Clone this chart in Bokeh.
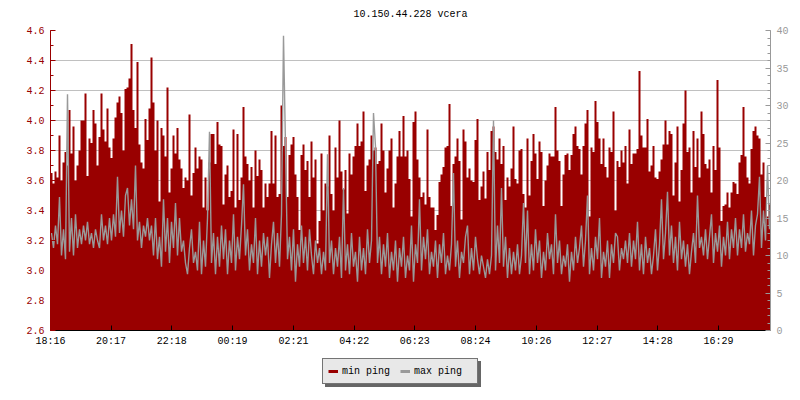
import numpy as np
from bokeh.plotting import figure
from bokeh.layouts import column
from bokeh.models import (Range1d, LinearAxis, FixedTicker, PrintfTickFormatter,
                          Legend, LegendItem)
from bokeh.embed import file_html
from bokeh.resources import INLINE

TITLE = "10.150.44.228 vcera"
TIME_LABELS = ["18:16", "20:17", "22:18", "00:19", "02:21", "04:22",
               "06:23", "08:24", "10:26", "12:27", "14:28", "16:29"]
TIME_OFFSETS_MIN = [0, 121, 242, 363, 485, 606, 727, 848, 970, 1091, 1212, 1333]
SPAN_MIN = 1437
LEFT_TICKS = [2.6, 2.8, 3.0, 3.2, 3.4, 3.6, 3.8, 4.0, 4.2, 4.4, 4.6]
RIGHT_TICKS = [0, 5, 10, 15, 20, 25, 30, 35, 40]
SERIES_NAMES = ["min ping", "max ping"]

MIN_PING = [
    3.65, 3.58, 3.66, 3.62, 3.90, 3.60, 3.72, 3.79, 3.70, 4.07,
    3.78, 3.96, 3.60, 3.70, 3.80, 4.00, 4.00, 4.18, 3.63, 3.88,
    3.85, 4.07, 3.98, 3.70, 3.89, 4.18, 3.94, 3.86, 4.08, 3.82,
    3.75, 3.88, 4.02, 4.12, 4.16, 4.05, 3.80, 4.21, 4.22, 4.28,
    4.51, 4.07, 3.95, 4.39, 3.84, 3.72, 3.68, 4.01, 3.87, 4.08,
    4.42, 4.12, 3.80, 4.00, 3.46, 3.95, 3.90, 3.76, 4.22, 3.52,
    3.68, 3.90, 3.78, 3.95, 3.74, 3.68, 3.55, 3.62, 3.60, 4.04,
    3.50, 3.65,
    3.82, 3.68, 3.76, 3.74, 3.42, 3.62, 3.40, 3.72, 3.91, 3.91,
    3.71, 3.99, 3.84, 3.83, 3.44, 3.64, 3.70, 3.49, 3.53, 3.94,
    3.42, 3.91, 3.47, 3.62, 4.09, 3.76, 3.71, 3.60, 3.69, 3.42,
    3.80, 3.63, 3.74, 3.67, 3.42, 3.58, 3.49, 3.58, 3.93, 3.58,
    3.90, 3.49, 3.51, 4.10, 3.83, 3.89, 3.49, 3.77, 3.84, 3.89,
    3.64, 3.49, 3.27, 3.77, 3.84, 3.67, 3.73, 3.49, 3.86, 3.62,
    3.74, 3.18, 3.33, 3.78, 3.40, 3.58, 3.56, 3.90, 3.51, 3.40,
    3.82, 3.62,
    4.00, 3.66, 3.54, 3.67, 3.38, 3.78, 3.64, 3.76, 3.83, 3.98,
    3.83, 3.86, 4.06, 3.53, 3.70, 3.74, 3.90, 3.80, 3.82, 3.71,
    3.73, 3.98, 3.80, 3.52, 3.68, 3.80, 3.88, 3.42, 3.58, 3.76,
    3.93, 3.76, 4.03, 3.76, 3.80, 3.61, 3.36, 3.99, 4.06, 3.74,
    3.62, 3.49, 3.52, 3.44, 3.94, 3.49, 3.42, 3.42, 3.27, 3.37,
    3.59, 3.64, 3.69, 3.82, 3.83, 4.11, 3.43, 3.71, 3.76, 3.88,
    3.73, 3.34, 3.94, 3.86, 3.62, 3.68, 3.60, 3.59, 3.87, 4.01,
    3.47, 3.56,
    3.66, 3.48, 3.79, 3.67, 3.93, 3.96, 3.79, 3.74, 3.88, 3.71,
    3.83, 3.47, 3.62, 3.56, 3.68, 3.96, 3.61, 3.58, 3.80, 3.81,
    3.51, 3.42, 3.88, 3.50, 3.73, 3.91, 3.78, 3.61, 3.86, 3.79,
    3.43, 3.60, 3.70, 3.78, 3.76, 3.76, 4.09, 3.80, 3.73, 3.43,
    3.64, 3.77, 3.78, 3.67, 3.77, 3.91, 3.96, 3.83, 3.81, 3.64,
    3.83, 3.98, 4.07, 3.36, 3.82, 3.79, 4.13, 3.99, 3.88, 3.71,
    3.88, 3.69, 3.62, 3.82, 3.79, 4.06, 3.40, 3.73, 3.69, 3.80,
    3.72, 3.83,
    3.58, 3.94, 3.71, 3.78, 3.78, 3.81, 4.33, 3.90, 3.82, 3.82,
    4.01, 3.66, 3.70, 3.83, 3.62, 3.61, 3.66, 3.74, 3.84, 4.00,
    3.84, 3.93, 3.91, 3.50, 3.72, 3.96, 3.46, 3.67, 3.98, 4.20,
    3.79, 3.82, 3.52, 3.93, 3.69, 3.88, 3.62, 4.06, 3.91, 3.71,
    3.68, 3.74, 3.52, 3.83, 3.67, 4.27, 3.82, 3.33, 3.43, 3.44,
    3.52, 3.42, 3.52, 3.59, 3.58, 3.51, 3.72, 3.77, 4.09, 3.76,
    3.62, 3.58, 3.81, 3.93, 3.96, 3.90, 3.88, 3.64, 3.72, 3.49,
    3.36, 3.44,
]

MAX_PING = [
    13.0, 11.0, 14.0, 11.5, 17.8, 10.0, 13.5, 9.5, 31.5, 10.5,
    15.0, 10.0, 15.5, 11.0, 13.5, 11.5, 14.0, 12.0, 14.5, 11.5,
    13.0, 11.0, 13.5, 12.0, 11.0, 15.5, 12.0, 14.0, 11.5, 15.0,
    12.0, 15.5, 12.5, 20.5, 13.0, 16.0, 12.5, 18.0, 19.0, 14.0,
    17.5, 13.5, 22.0, 12.0, 14.5, 11.0, 14.0, 12.5, 15.0, 12.0,
    14.0, 10.0, 15.0, 9.5, 12.5, 8.5, 17.5, 10.5, 15.0, 9.0,
    14.5, 11.0, 17.0, 10.0, 15.0, 10.5, 12.0, 9.0, 7.5, 11.0,
    13.5, 9.0,
    10.5, 8.0, 14.5, 7.5, 12.0, 8.5, 15.0, 26.5, 9.0, 13.0,
    7.5, 12.5, 8.5, 14.0, 9.5, 13.5, 7.5, 12.0, 9.0, 15.5,
    8.0, 12.5, 9.5, 14.0, 19.5, 10.0, 13.5, 8.0, 11.5, 9.0,
    15.0, 7.5, 12.0, 8.5, 13.0, 10.0, 12.5, 7.0, 11.5, 14.5,
    9.0, 13.0, 8.5, 15.5, 39.3, 24.5, 9.5, 12.5, 8.0, 13.5,
    6.5, 11.5, 8.5, 14.0, 9.0, 12.5, 8.0, 13.5, 10.0, 7.5,
    12.0, 9.0, 11.0, 7.5, 10.5, 8.0, 23.5, 9.0, 12.0, 7.5,
    11.0, 8.5,
    12.5, 7.0, 19.0, 8.0, 11.5, 7.5, 13.0, 8.5, 10.5, 6.5,
    12.5, 8.0, 11.0, 7.5, 13.5, 9.0, 12.0, 29.0, 24.5, 9.0,
    12.5, 7.5, 11.5, 8.5, 13.0, 7.0, 10.5, 8.0, 12.0, 6.5,
    11.0, 8.5, 12.5, 7.0, 10.0, 8.0, 14.0, 6.5, 11.5, 9.0,
    17.5, 8.0, 12.5, 9.5, 13.5, 7.5, 10.5, 8.5, 12.0, 7.0,
    11.5, 9.0, 13.0, 7.5, 10.0, 8.0, 11.5, 21.0, 8.5, 12.0,
    7.0, 10.5, 9.0, 12.5, 14.0, 7.5, 11.0, 8.0, 12.5, 9.5,
    7.5, 10.0,
    8.5, 7.0, 9.5, 7.5, 10.0, 28.0, 8.0, 14.0, 9.0, 19.0,
    8.5, 12.5, 7.0, 11.0, 7.5, 10.5, 8.0, 11.5, 7.5, 10.0,
    17.0, 9.0, 16.0, 7.5, 11.5, 8.0, 13.5, 9.0, 12.0, 7.0,
    10.5, 8.0, 13.0, 9.5, 11.5, 7.5, 15.5, 9.0, 12.0, 7.5,
    10.0, 8.5, 11.5, 6.5, 10.5, 8.0, 12.5, 9.0, 11.0, 14.0,
    8.5, 12.0, 18.0, 7.5, 11.0, 8.0, 12.5, 9.5, 15.0, 7.0,
    10.5, 8.5, 12.0, 7.0, 11.5, 9.0, 13.0, 12.5, 8.0, 11.0,
    9.5, 12.0,
    9.0, 13.0, 8.5, 12.0, 9.5, 14.5, 8.0, 11.5, 7.5, 12.5,
    9.0, 11.0, 7.5, 10.0, 13.5, 8.0, 11.5, 17.5, 9.5, 13.0,
    18.5, 10.0, 14.0, 9.0, 12.5, 8.0, 14.5, 9.5, 12.0, 8.5,
    11.5, 7.5, 10.5, 13.0, 9.0, 18.0, 11.0, 12.5, 10.0, 13.5,
    9.5, 12.5, 15.5, 9.0, 13.0, 10.5, 14.0, 8.5, 12.5, 10.0,
    14.5, 9.5, 13.5, 11.0, 15.0, 10.0, 13.5, 11.0, 15.5, 10.5,
    13.0, 11.5, 16.0, 10.0, 14.0, 15.5, 20.5, 11.0, 16.0, 12.0,
    22.0, 13.5,
]

RED = "#990000"
GRAY = "#999999"
FONT = "Liberation Mono"

n = len(MIN_PING)
step = SPAN_MIN / n
xs = list(np.arange(n + 1) * step)
x_mid = list((np.arange(n) + 0.5) * step)
y_min = MIN_PING + [MIN_PING[-1]]

p = figure(width=800, height=350, output_backend="svg", toolbar_location=None, tools="",
           x_range=Range1d(0, SPAN_MIN), y_range=Range1d(LEFT_TICKS[0], LEFT_TICKS[-1]),
           min_border_left=50, min_border_right=30, min_border_top=30, min_border_bottom=20)
p.extra_y_ranges = {"right": Range1d(RIGHT_TICKS[0], RIGHT_TICKS[-1])}
p.outline_line_color = None
p.background_fill_color = "white"
p.border_fill_color = "white"

p.title.text = TITLE
p.title.align = "center"
p.title.vertical_align = "top"
p.title.text_font = FONT
p.title.text_font_size = "10px"
p.title.text_font_style = "normal"
p.title.text_color = "black"
p.title.standoff = 17

p.varea_step(x=xs, y1=[LEFT_TICKS[0]] * (n + 1), y2=y_min, step_mode="after",
             fill_color=RED, fill_alpha=1)
p.line(x=x_mid, y=MAX_PING, y_range_name="right", line_color=GRAY, line_width=1.4)

# left axis
left_ticker = FixedTicker(ticks=LEFT_TICKS,
                          minor_ticks=[round(LEFT_TICKS[0] + 0.1 * k, 2) for k in range(21)])
ya = p.yaxis[0]
ya.ticker = left_ticker
ya.formatter = PrintfTickFormatter(format="%.1f")
ya.axis_line_color = RED
ya.major_tick_line_color = RED
ya.minor_tick_line_color = RED
ya.major_tick_in = 5
ya.major_tick_out = 0
ya.minor_tick_in = 3
ya.minor_tick_out = 0
ya.major_label_text_color = RED
ya.major_label_text_font = FONT
ya.major_label_text_font_size = "10px"
ya.major_label_standoff = 6

# right axis
ra = LinearAxis(y_range_name="right",
                ticker=FixedTicker(ticks=RIGHT_TICKS, minor_ticks=list(range(0, 41))))
ra.axis_line_color = GRAY
ra.major_tick_line_color = GRAY
ra.minor_tick_line_color = GRAY
ra.major_tick_in = 5
ra.major_tick_out = 0
ra.minor_tick_in = 3
ra.minor_tick_out = 0
ra.major_label_text_color = GRAY
ra.major_label_text_font = FONT
ra.major_label_text_font_size = "10px"
ra.major_label_standoff = 6
p.add_layout(ra, "right")

# bottom axis
xa = p.xaxis[0]
xa.ticker = FixedTicker(ticks=TIME_OFFSETS_MIN, minor_ticks=[])
xa.major_label_overrides = {t: lab for t, lab in zip(TIME_OFFSETS_MIN, TIME_LABELS)}
xa.axis_line_color = "black"
xa.major_tick_line_color = "black"
xa.major_tick_in = 5
xa.major_tick_out = 0
xa.minor_tick_line_color = None
xa.major_label_text_font = FONT
xa.major_label_text_font_size = "10px"
xa.major_label_text_color = "black"
xa.major_label_standoff = 5

p.xgrid.visible = False
p.ygrid.ticker = left_ticker
p.ygrid.grid_line_color = "#c0c0c0"
p.ygrid.grid_line_width = 1

# legend strip under the chart (its own small canvas, no axes)
lg = figure(width=800, height=50, output_backend="svg", toolbar_location=None, tools="",
            x_range=Range1d(0, 10), y_range=Range1d(0, 10),
            x_axis_type=None, y_axis_type=None, min_border=0)
lg.outline_line_color = None
lg.background_fill_color = "white"
lg.border_fill_color = "white"

# swatch renderers kept outside the visible range; only the legend shows them
off = [-5, -4]
s1 = lg.line(x=off, y=off, line_color="#666666", line_width=3)
s2 = lg.line(x=off, y=off, line_color="#666666", line_width=3)
l1 = lg.line(x=off, y=off, line_color=RED, line_width=3)
l2 = lg.line(x=off, y=off, line_color=GRAY, line_width=3)

common = dict(orientation="horizontal", glyph_width=10, glyph_height=14, label_height=14,
              label_width=58, label_standoff=4, spacing=0, padding=5, margin=0,
              label_text_font=FONT, label_text_font_size="10px",
              background_fill_alpha=1, border_line_width=1)
shadow = Legend(items=[LegendItem(label=" ", renderers=[s1]), LegendItem(label=" ", renderers=[s2])],
                location=(275, 13), background_fill_color="#666666", border_line_color="#666666",
                label_text_color="#666666", **common)
legend = Legend(items=[LegendItem(label=SERIES_NAMES[0], renderers=[l1]),
                       LegendItem(label=SERIES_NAMES[1], renderers=[l2])],
                location=(272, 16), background_fill_color="#e8e8e8", border_line_color="black",
                label_text_color="black", **common)
lg.add_layout(shadow, "center")
lg.add_layout(legend, "center")

layout = column(p, lg, spacing=0)
open("out.html", "w").write(file_html(layout, INLINE))
